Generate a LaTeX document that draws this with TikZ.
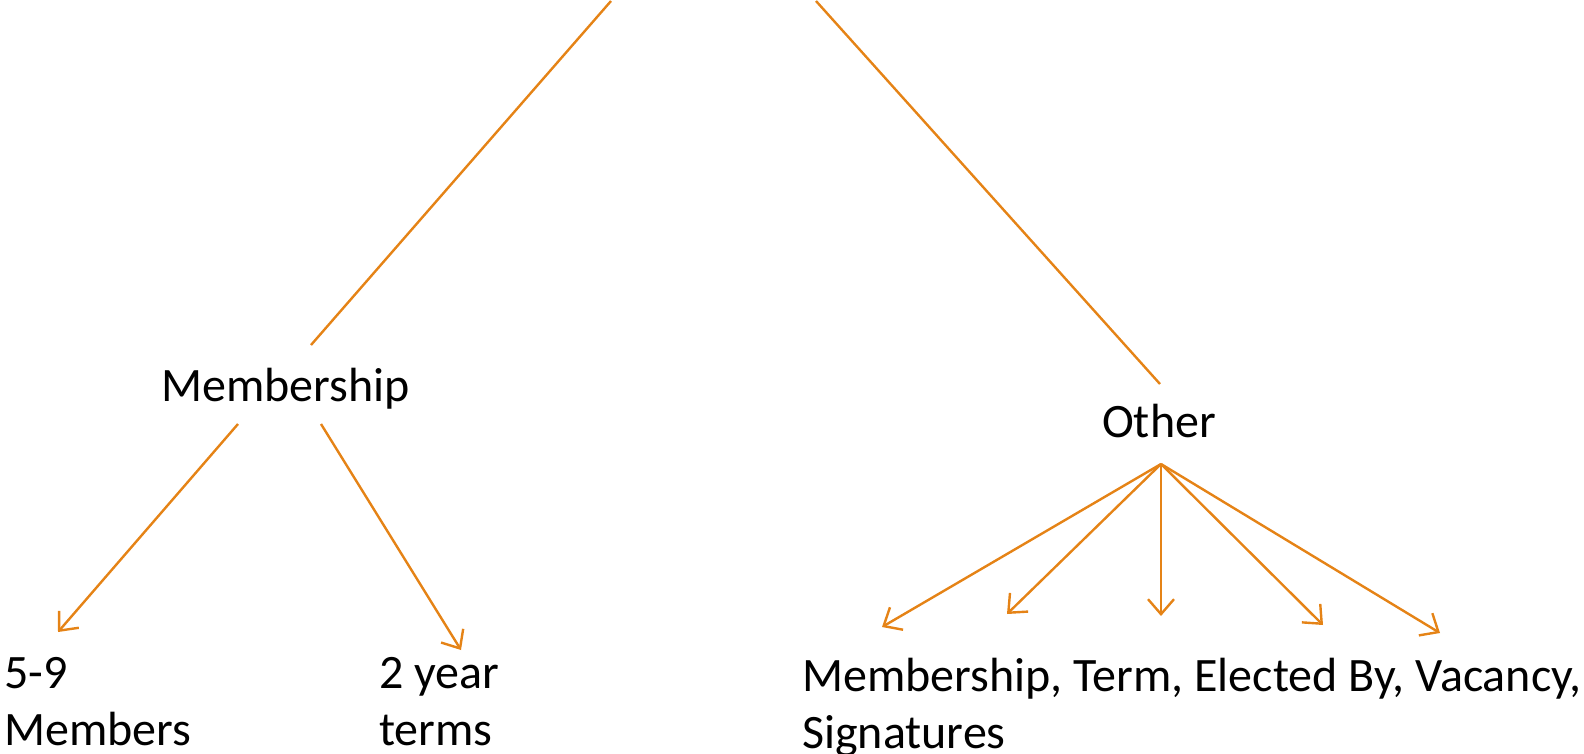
\documentclass[tikz,border=0pt]{standalone}
\usepackage{fontspec}
\setmainfont{Carlito}
\usetikzlibrary{arrows.meta}
\definecolor{org}{RGB}{229,131,22}
\begin{document}
\begin{tikzpicture}[x=1pt,y=-1pt,
  conn/.style={draw=org,line width=2.4pt},
  arr/.style={conn,-{Straight Barb[length=15pt,width=26pt]}},
  lbl/.style={font=\fontsize{48}{57}\selectfont,inner sep=0pt,anchor=base west,align=left}]
\useasboundingbox (0,0) rectangle (1584,753);
% labels
\node[lbl] (mem) at (161,401) {Membership};
\node[lbl] (oth) at (1102,437) {Other};
\node[lbl] (n59) at (4,745) {5-9\\Members};
\node[lbl] (n2y) at (379,745) {2 year\\terms};
\node[lbl] (lst) at (802,748) {Membership, Term, Elected By, Vacancy,\\Signatures};
% connector end points
\coordinate (t1) at (611,1);
\coordinate (t2) at (816,1);
\coordinate (memtop) at (311,345);
\coordinate (othtop) at (1160,384);
\coordinate (memL) at (238,424);
\coordinate (memR) at (321,424);
\coordinate (othbot) at (1161,464);
\coordinate (e59) at (58,632);
\coordinate (e2y) at (461,650);
\coordinate (eA) at (882,627);
\coordinate (eB) at (1007,614);
\coordinate (eC) at (1161,616);
\coordinate (eD) at (1323,625);
\coordinate (eE) at (1440,633);
% connectors
\draw[conn] (t1) -- (memtop);
\draw[conn] (t2) -- (othtop);
\draw[arr] (memL) -- (e59);
\draw[arr] (memR) -- (e2y);
\foreach \e in {eA,eB,eC,eD,eE} \draw[arr] (othbot) -- (\e);
\end{tikzpicture}
\end{document}
